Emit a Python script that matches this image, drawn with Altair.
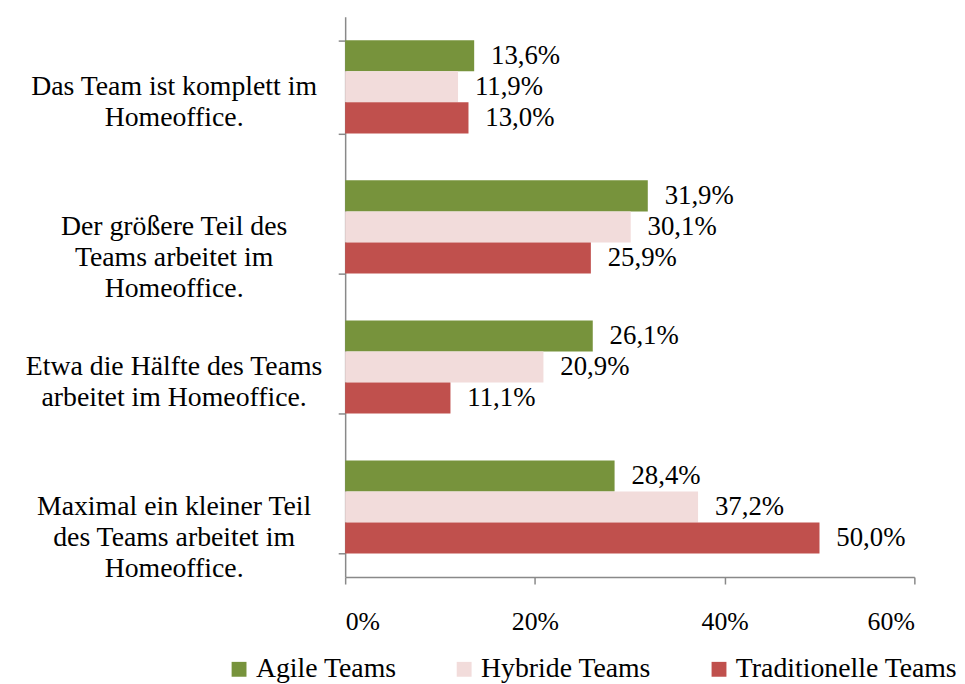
import altair as alt
import pandas as pd

categories = [
    "Das Team ist komplett im\nHomeoffice.",
    "Der größere Teil des\nTeams arbeitet im\nHomeoffice.",
    "Etwa die Hälfte des Teams\narbeitet im Homeoffice.",
    "Maximal ein kleiner Teil\ndes Teams arbeitet im\nHomeoffice.",
]
series = ["Agile Teams", "Hybride Teams", "Traditionelle Teams"]
agile = [13.6, 31.9, 26.1, 28.4]
hybride = [11.9, 30.1, 20.9, 37.2]
traditionell = [13.0, 25.9, 11.1, 50.0]
colors = ["#77933C", "#F2DCDB", "#C0504D"]
x_ticks = [0, 20, 40, 60]

rows = []
for s, vals in zip(series, [agile, hybride, traditionell]):
    for c, v in zip(categories, vals):
        rows.append({"cat": c, "series": s, "value": v})
df = pd.DataFrame(rows)

FONT = "Liberation Serif, Times New Roman, serif"

base = alt.Chart(df).encode(
    y=alt.Y(
        "cat:N",
        sort=categories,
        title=None,
        scale=alt.Scale(paddingInner=0.335, paddingOuter=0.1675),
        axis=alt.Axis(
            labelExpr="split(datum.label, '\\n')",
            labelAlign="center",
            labelBaseline="middle",
            labelPadding=166,
            labelLineHeight=31,
            labelFont=FONT,
            labelFontSize=28,
            labelColor="black",
            labelLimit=400,
            tickBand="extent",
            tickSize=7,
            tickColor="#898989",
            tickWidth=1.5,
            domainColor="#898989",
            domainWidth=1.5,
        ),
    ),
    yOffset=alt.YOffset("series:N", sort=series, scale=alt.Scale(paddingInner=0, paddingOuter=0)),
)

bars = base.mark_bar().encode(
    x=alt.X(
        "value:Q",
        title=None,
        scale=alt.Scale(domain=[0, 60], nice=False),
        axis=alt.Axis(
            values=x_ticks,
            labelExpr="datum.value + '%'",
            labelFont=FONT,
            labelFontSize=26,
            labelColor="black",
            labelPadding=25,
            tickSize=7,
            tickColor="#898989",
            tickWidth=1.5,
            domainColor="#898989",
            domainWidth=1.5,
            grid=False,
        ),
    ),
    color=alt.Color(
        "series:N",
        sort=series,
        scale=alt.Scale(domain=series, range=colors),
        legend=alt.Legend(
            title=None,
            orient="none",
            legendX=-121,
            legendY=644,
            direction="horizontal",
            symbolType="square",
            symbolSize=225,
            symbolStrokeWidth=0,
            symbolOpacity=1,
            labelFont=FONT,
            labelFontSize=28,
            labelColor="black",
            labelOffset=3,
            labelLimit=400,
            columnPadding=54,
        ),
    ),
)

labels = base.mark_text(
    align="left", baseline="middle", dx=17, font=FONT, fontSize=27, color="black"
).transform_calculate(
    label="replace(format(datum.value, '.1f'), '.', ',') + '%'"
).encode(
    x="value:Q",
    text="label:N",
)

chart = alt.layer(bars, labels).properties(
    width=574,
    height=565,
    autosize=alt.AutoSizeParams(type="none"),
    padding={"left": 340, "top": 6, "right": 43, "bottom": 112},
).configure_view(stroke=None)

chart.save("out.html", embed_options={"renderer": "svg", "actions": False})
